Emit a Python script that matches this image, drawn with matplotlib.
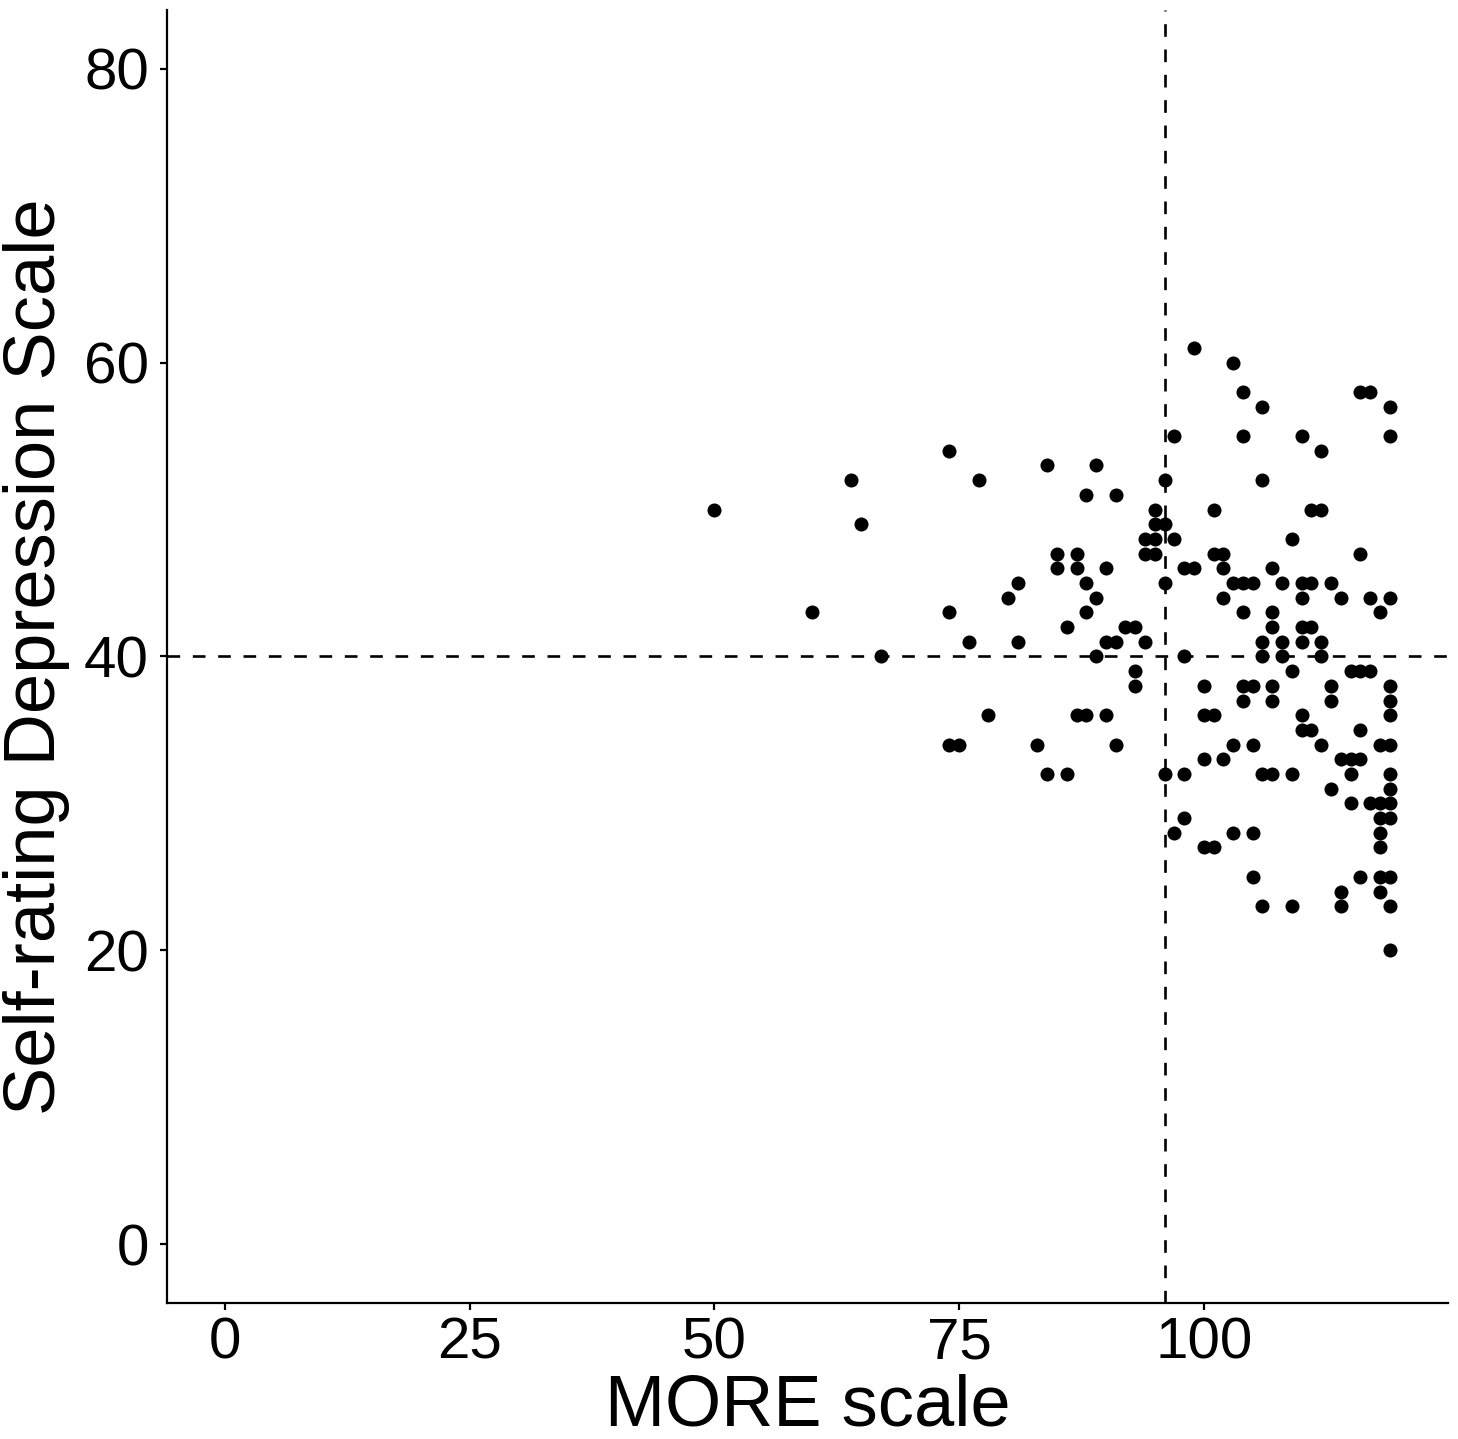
import matplotlib
matplotlib.use('Agg')
import matplotlib.pyplot as plt
import numpy as np

plt.rcParams['font.family'] = ['Liberation Sans', 'DejaVu Sans']

# MORE scale (x) e Self-rating Depression Scale (y), lidos do gráfico
# cada linha corresponde a um valor de x
more = [50,
        60,
        64,
        65,
        67,
        74, 74, 74,
        75,
        76,
        77,
        78,
        80,
        81, 81,
        83,
        84, 84,
        85, 85,
        86, 86,
        87, 87, 87,
        88, 88, 88, 88,
        89, 89, 89,
        90, 90, 90,
        91, 91, 91,
        92,
        93, 93, 93,
        94, 94, 94,
        95, 95, 95, 95,
        96, 96, 96, 96,
        97, 97, 97,
        98, 98, 98, 98,
        99, 99,
        100, 100, 100, 100,
        101, 101, 101, 101,
        102, 102, 102, 102,
        103, 103, 103, 103,
        104, 104, 104, 104, 104, 104,
        105, 105, 105, 105, 105,
        106, 106, 106, 106, 106, 106,
        107, 107, 107, 107, 107, 107,
        108, 108, 108,
        109, 109, 109, 109,
        110, 110, 110, 110, 110, 110, 110,
        111, 111, 111, 111,
        112, 112, 112, 112, 112,
        113, 113, 113, 113,
        114, 114, 114, 114,
        115, 115, 115, 115,
        116, 116, 116, 116, 116, 116,
        117, 117, 117, 117,
        118, 118, 118, 118, 118, 118, 118, 118,
        119, 119, 119, 119, 119, 119, 119, 119, 119, 119, 119, 119, 119, 119]
sds = [50,
       43,
       52,
       49,
       40,
       54, 43, 34,
       34,
       41,
       52,
       36,
       44,
       45, 41,
       34,
       53, 32,
       47, 46,
       42, 32,
       47, 46, 36,
       51, 45, 43, 36,
       53, 44, 40,
       46, 41, 36,
       51, 41, 34,
       42,
       42, 39, 38,
       48, 47, 41,
       50, 49, 48, 47,
       52, 49, 45, 32,
       55, 48, 28,
       46, 40, 32, 29,
       61, 46,
       38, 36, 33, 27,
       50, 47, 36, 27,
       47, 46, 44, 33,
       60, 45, 34, 28,
       58, 55, 45, 43, 38, 37,
       45, 38, 34, 28, 25,
       57, 52, 41, 40, 32, 23,
       46, 43, 42, 38, 37, 32,
       45, 41, 40,
       48, 39, 32, 23,
       55, 45, 44, 42, 41, 36, 35,
       50, 45, 42, 35,
       54, 50, 41, 40, 34,
       45, 38, 37, 31,
       44, 33, 24, 23,
       39, 33, 32, 30,
       58, 47, 39, 35, 33, 25,
       58, 44, 39, 30,
       43, 34, 30, 29, 28, 27, 25, 24,
       57, 55, 44, 38, 37, 36, 34, 32, 31, 30, 29, 25, 23, 20]

corte_x = 96
corte_y = 40

fig = plt.figure(figsize=(14.58, 14.39), dpi=100)
ax = fig.add_axes([0.1145, 0.0945, 0.8786, 0.8986])

ax.scatter(more, sds, s=102, color='black', linewidths=0, zorder=3)
ax.axvline(corte_x, color='black', lw=1.9, linestyle=(0, (4.8, 4.8)), zorder=2)
ax.axhline(corte_y, color='black', lw=1.9, linestyle=(0, (4.8, 4.8)), zorder=2)

ax.set_xlim(-5.95, 124.95)
ax.set_ylim(-4, 84)
ax.set_xticks([0, 25, 50, 75, 100])
ax.set_yticks([0, 20, 40, 60, 80])

for lado in ['top', 'right']:
    ax.spines[lado].set_visible(False)
for lado in ['left', 'bottom']:
    ax.spines[lado].set_linewidth(1.6)

ax.tick_params(axis='both', length=5, width=1.6, labelsize=42, colors='black')
ax.tick_params(axis='y', pad=8)
ax.tick_params(axis='x', pad=5)

ax.set_xlabel('MORE scale', fontsize=52, labelpad=2)
ax.set_ylabel('Self-rating Depression Scale', fontsize=52, labelpad=10)

fig.savefig('out.png', dpi=100)
